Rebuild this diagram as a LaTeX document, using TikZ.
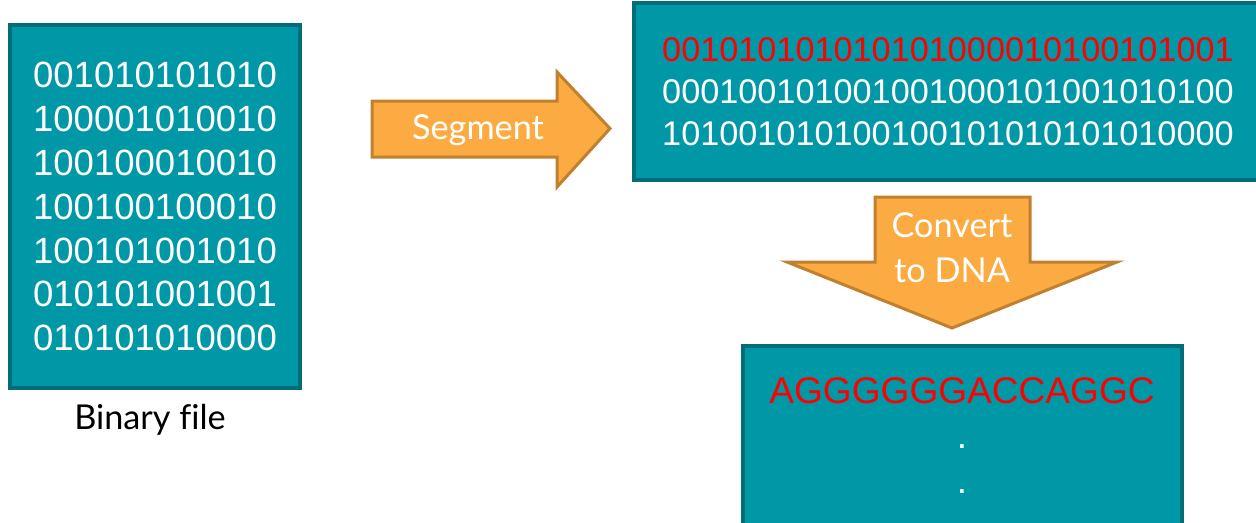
\documentclass[tikz,border=0pt]{standalone}
\usepackage{fontspec}
\setmainfont{Liberation Sans}
\newfontfamily\labelfont[Ligatures=NoCommon]{Lato}
\usetikzlibrary{positioning}
\definecolor{boxfill}{HTML}{0097A7}
\definecolor{boxline}{HTML}{006D78}
\definecolor{flowfill}{HTML}{FBAB42}
\definecolor{flowline}{HTML}{C0802F}
\definecolor{bitred}{HTML}{FF0000}

\begin{document}
\begin{tikzpicture}[x=0.02cm,y=-0.02cm,
 bitbox/.style={draw=boxline,fill=boxfill,line width=2.3pt,inner sep=0pt,text=white,align=center},
 flow/.style={draw=flowline,fill=flowfill,line width=1.7pt,line join=miter},
 flowtext/.style={text=white,align=center,font=\labelfont\fontsize{19.5}{25.5}\selectfont},
 caption/.style={font=\labelfont\fontsize{19.5}{24}\selectfont}
]
\useasboundingbox (0,0) rectangle (1256,522);
% binary file
\node[bitbox,minimum width=5.8cm,minimum height=7.26cm,font=\fontsize{20.8}{25}\selectfont] (file) at (155,206.5)
 {001010101010\\100001010010\\100100010010\\100100100010\\100101001010\\010101001001\\010101010000};
\node[caption] (filecap) at (150,420) {Binary file};
% segments
\node[bitbox,minimum width=12.56cm,minimum height=3.54cm,font=\fontsize{19.5}{24}\selectfont] (segs) at (948,91.5)
 {\textcolor{bitred}{001010101010101000010100101001}\\000100101001001000101001010100\\101001010100100101010101010000};
% dna
\node[bitbox,minimum width=8.78cm,minimum height=3.6cm] (dna) at (962.5,436) {};
\node[text=bitred,font=\fontsize{21.1}{25}\selectfont] (strand) at (962,391) {AGGGGGGACCAGGC};
\node[text=white,font=\fontsize{21}{25}\selectfont] (dot1) at (962,447) {.};
\node[text=white,font=\fontsize{21}{25}\selectfont] (dot2) at (962,492) {.};
% arrows
\draw[flow] (372,101) -- (557,101) -- (557,72) -- (610,128.5) -- (557,187) -- (557,157) -- (372,157) -- cycle;
\node[flowtext] (segment) at (478,130) {Segment};
\draw[flow] (875,197) -- (1030,197) -- (1030,262) -- (1117,262) -- (952,328) -- (787,262) -- (875,262) -- cycle;
\node[flowtext] (convert) at (952,248) {Convert\\to DNA};
\end{tikzpicture}
\end{document}
